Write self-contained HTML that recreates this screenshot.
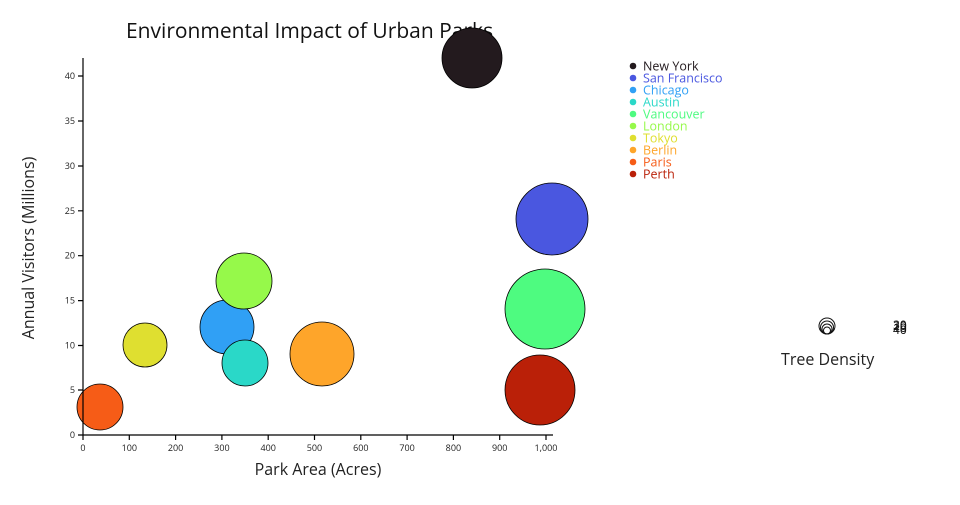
<!DOCTYPE html>
<html><head><meta charset="utf-8"><style>
body{margin:0;background:#fff;}
svg{font-family:"Open Sans","DejaVu Sans","Liberation Sans",sans-serif;}
</style></head><body>
<svg width="960" height="500" viewBox="0 0 960 500">
<text x="126" y="38" font-size="21" fill="#111">Environmental Impact of Urban Parks</text>
<g stroke="#000" stroke-width="0.8">
<circle cx="472" cy="58" r="30" fill="#231a1e"/>
<circle cx="552" cy="219" r="36" fill="#4a57e0"/>
<circle cx="227" cy="327" r="27" fill="#30a0f5"/>
<circle cx="245" cy="363" r="23" fill="#2ad8c8"/>
<circle cx="545" cy="309" r="40" fill="#4efb80"/>
<circle cx="244" cy="281" r="28" fill="#96f94a"/>
<circle cx="145" cy="345" r="22" fill="#dfdf30"/>
<circle cx="322" cy="354" r="32" fill="#fea52a"/>
<circle cx="100" cy="407" r="23" fill="#f65c17"/>
<circle cx="540" cy="390" r="35" fill="#ba2008"/>
</g>
<g stroke="#000" stroke-width="1.2" fill="none">
<path d="M83 58V435H553"/>
<path d="M78 435H83M78 390H83M78 345.5H83M78 300.6H83M78 255.7H83M78 210.8H83M78 166H83M78 121H83M78 76H83"/>
<path d="M83 435v5M129.3 435v5M175.6 435v5M221.9 435v5M268.2 435v5M314.5 435v5M360.8 435v5M407.1 435v5M453.4 435v5M499.7 435v5M546 435v5"/>
</g>
<g font-size="9" fill="#222" text-anchor="end">
<text x="75" y="438">0</text><text x="75" y="393">5</text><text x="75" y="348.5">10</text><text x="75" y="303.6">15</text><text x="75" y="258.7">20</text><text x="75" y="213.8">25</text><text x="75" y="169">30</text><text x="75" y="124">35</text><text x="75" y="79">40</text>
</g>
<g font-size="9" fill="#222" text-anchor="middle">
<text x="83" y="451">0</text><text x="129.3" y="451">100</text><text x="175.6" y="451">200</text><text x="221.9" y="451">300</text><text x="268.2" y="451">400</text><text x="314.5" y="451">500</text><text x="360.8" y="451">600</text><text x="407.1" y="451">700</text><text x="453.4" y="451">800</text><text x="499.7" y="451">900</text><text x="546" y="451">1,000</text>
</g>
<text x="318" y="475" font-size="16" fill="#222" text-anchor="middle">Park Area (Acres)</text>
<text transform="translate(34,248) rotate(-90)" font-size="16" fill="#222" text-anchor="middle">Annual Visitors (Millions)</text>
<g font-size="12.5">
<circle cx="633" cy="66" r="3.3" fill="#231a1e"/><text x="643" y="70.5" fill="#231a1e">New York</text>
<circle cx="633" cy="78" r="3.3" fill="#4a57e0"/><text x="643" y="82.5" fill="#4a57e0">San Francisco</text>
<circle cx="633" cy="90" r="3.3" fill="#30a0f5"/><text x="643" y="94.5" fill="#30a0f5">Chicago</text>
<circle cx="633" cy="102" r="3.3" fill="#2ad8c8"/><text x="643" y="106.5" fill="#2ad8c8">Austin</text>
<circle cx="633" cy="114" r="3.3" fill="#4efb80"/><text x="643" y="118.5" fill="#4efb80">Vancouver</text>
<circle cx="633" cy="126" r="3.3" fill="#96f94a"/><text x="643" y="130.5" fill="#96f94a">London</text>
<circle cx="633" cy="138" r="3.3" fill="#dfdf30"/><text x="643" y="142.5" fill="#dfdf30">Tokyo</text>
<circle cx="633" cy="150" r="3.3" fill="#fea52a"/><text x="643" y="154.5" fill="#fea52a">Berlin</text>
<circle cx="633" cy="162" r="3.3" fill="#f65c17"/><text x="643" y="166.5" fill="#f65c17">Paris</text>
<circle cx="633" cy="174" r="3.3" fill="#ba2008"/><text x="643" y="178.5" fill="#ba2008">Perth</text>
</g>
<g fill="none" stroke="#111" stroke-width="1">
<circle cx="827" cy="326" r="8"/><circle cx="827" cy="327.5" r="6.5"/><circle cx="827" cy="329" r="5"/><circle cx="827" cy="330.5" r="3.5"/>
</g>
<g font-size="12" fill="#111">
<text x="893" y="332">10</text><text x="893" y="330">20</text><text x="893" y="329">30</text><text x="893" y="334">40</text>
</g>
<text x="781" y="365" font-size="16" fill="#222">Tree Density</text>
</svg>
</body></html>
